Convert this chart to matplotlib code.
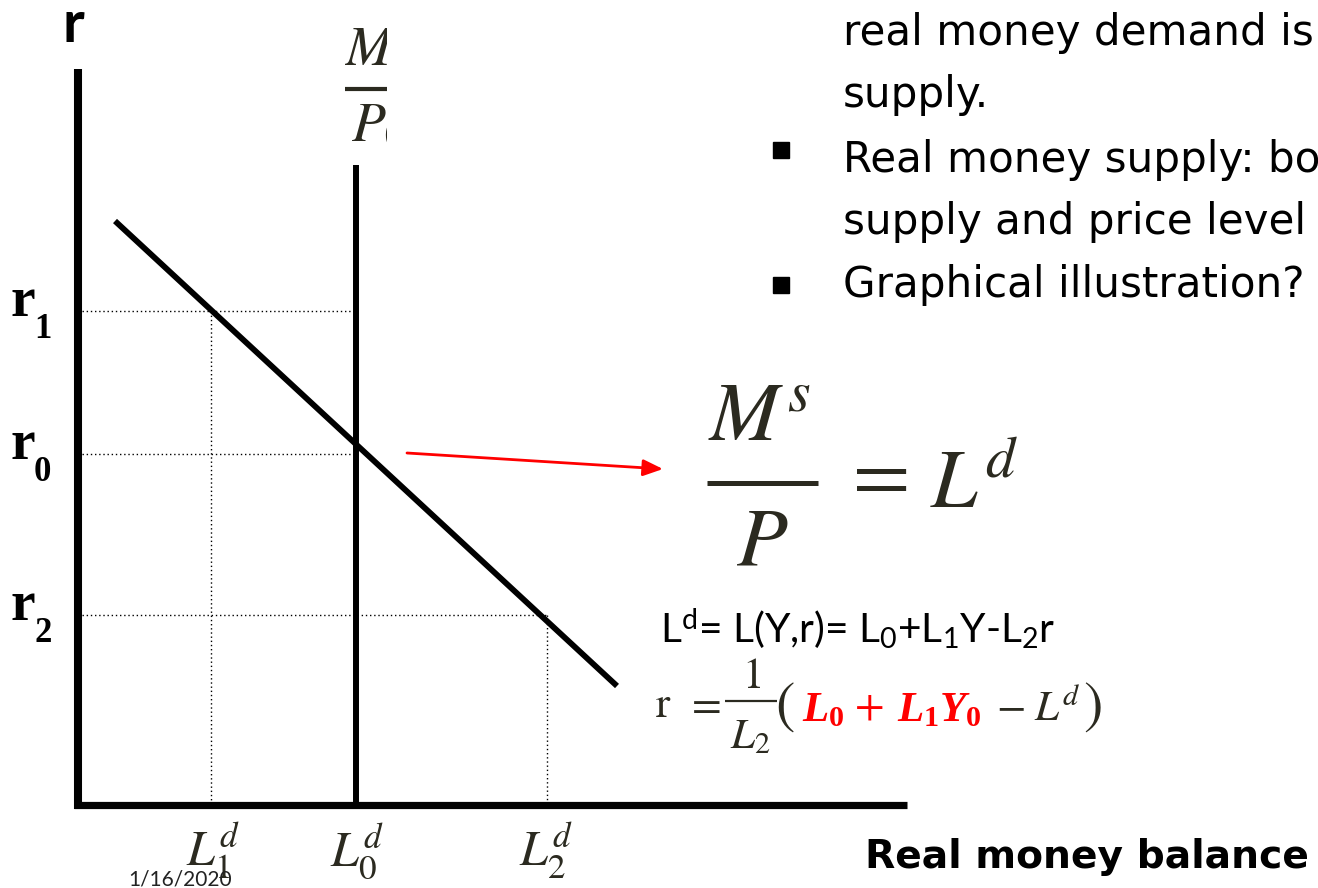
import matplotlib
matplotlib.use("Agg")
import matplotlib.pyplot as plt
from matplotlib.transforms import Bbox, TransformedBbox

plt.rcParams['mathtext.fontset'] = 'custom'
plt.rcParams['mathtext.rm'] = 'Lato'
plt.rcParams['mathtext.it'] = 'Liberation Serif:italic:bold'
plt.rcParams['mathtext.bf'] = 'Liberation Serif:bold'

# ---------------- data (diagram in pixel-like units, y downward) ----------------
origin = (78, 805)              # corner of the two axes
y_axis_top = 69
x_axis_right = 907
supply_x = 356                  # real money supply M/P0 (vertical)
supply_top = 165
demand_x = [115, 617]           # money demand line L^d
demand_y = [221, 686]
r_levels = [311, 454, 615]      # r1, r0, r2
r_subs = ['1', '0', '2']
r_guide_end = [356, 356, 547]   # where horizontal guides stop
L_levels = [213, 357, 546]      # L1^d, L0^d, L2^d label positions
L_subs = ['1', '0', '2']
v_guides_x = [211, 547]         # vertical dotted guides
v_guides_top = [311, 615]
arrow_start = (407, 453)
arrow_end = (663, 469)
bullet_y = [150, 285]
para_lines = ["real money demand is", "supply.", "Real money supply: both",
              "supply and price level", "Graphical illustration?"]
para_baselines = [45, 107, 172, 234, 297]

DARK = '#2b2a20'

fig = plt.figure(figsize=(13.18, 8.88), dpi=100)
ax = fig.add_axes([0, 0, 1, 1])
ax.set_xlim(0, 1318)
ax.set_ylim(888, 0)
ax.axis('off')

# axes
ax.plot([origin[0], origin[0]], [y_axis_top, origin[1] + 4], color='black', lw=5.8, solid_capstyle='butt')
ax.plot([origin[0] - 4, x_axis_right], [origin[1], origin[1]], color='black', lw=5.2, solid_capstyle='butt')

# supply line
ax.plot([supply_x, supply_x], [supply_top, origin[1]], color='black', lw=4.3, solid_capstyle='butt')
# demand line
ax.plot(demand_x, demand_y, color='black', lw=4.2, solid_capstyle='butt')

# dotted guides
for ry, xe in zip(r_levels, r_guide_end):
    ax.plot([origin[0] + 4, xe], [ry, ry], color='black', lw=1.0, ls=(0, (1, 2)))
for vx, vt in zip(v_guides_x, v_guides_top):
    ax.plot([vx, vx], [vt, origin[1] - 3], color='black', lw=1.0, ls=(0, (1, 2)))

# axis label r
ax.text(62, 42, 'r', fontsize=42, fontweight='bold', family='Lato', ha='left', va='baseline')

# r level labels
for ry, s in zip(r_levels, r_subs):
    ax.text(11, ry + 5, 'r', fontsize=40, fontweight='bold', family='Liberation Serif',
            ha='left', va='baseline')
    ax.text(34, ry + 27, s, fontsize=25, fontweight='bold', family='Liberation Serif',
            ha='left', va='baseline')

# L labels under x axis
for lx, s in zip(L_levels, L_subs):
    ax.text(lx, 866, r'$L_{%s}^{d}$' % s, fontsize=36, color=DARK, ha='center',
            va='baseline', math_fontfamily='stix')

# M/P0 label at top of supply line (clipped on the right as in the slide)
clip = TransformedBbox(Bbox([[0, 0], [387, 888]]), ax.transData)
tM = ax.text(344, 65, r'$M$', fontsize=40, color=DARK, ha='left', va='baseline',
             math_fontfamily='stix')
tP = ax.text(351, 141, r'$P_0$', fontsize=40, color=DARK, ha='left', va='baseline',
             math_fontfamily='stix')
ln, = ax.plot([345, 400], [89.5, 89.5], color=DARK, lw=3.0, solid_capstyle='butt')
for a in (tM, tP, ln):
    a.set_clip_box(clip)
    a.set_clip_on(True)

# red arrow
ax.annotate('', xy=arrow_end, xytext=arrow_start,
            arrowprops=dict(arrowstyle='-|>,head_length=1.2,head_width=0.5', color='red',
                            lw=2.0, shrinkA=0, shrinkB=0))

# big equation Ms/P = Ld
ax.text(708, 441, r'$M^{s}$', fontsize=60, color=DARK, ha='left', va='baseline',
        math_fontfamily='stix')
ax.plot([707, 818], [483, 483], color=DARK, lw=3.6, solid_capstyle='butt')
ax.text(762, 565, r'$P$', fontsize=60, color=DARK, ha='center', va='baseline',
        math_fontfamily='stix')
ax.text(874, 499, r'$=$', fontsize=60, color=DARK, ha='center', va='baseline',
        math_fontfamily='stix')
ax.text(930, 508, r'$L^{d}$', fontsize=60, color=DARK, ha='left', va='baseline',
        math_fontfamily='stix')

# Ld line
t_ld = ax.text(660, 643,
               r'L$^{\mathrm{d}}$= L(Y,r)= L$_{\mathrm{0}}$+L$_{\mathrm{1}}$Y-L$_{\mathrm{2}}$r',
               fontsize=26, family='Lato', color='black', ha='left', va='baseline',
               math_fontfamily='custom')

# r = 1/L2 (L0 + L1Y0 - Ld)
FS = 31
ax.text(655, 717, r'$\mathrm{r}$', fontsize=FS, color=DARK, ha='left', va='baseline',
        math_fontfamily='stix')
ax.text(703, 716, r'$=$', fontsize=FS, color=DARK, ha='center', va='baseline',
        math_fontfamily='stix')
ax.text(751, 688, r'$1$', fontsize=FS, color=DARK, ha='center', va='baseline',
        math_fontfamily='stix')
ax.plot([725, 777], [701, 701], color=DARK, lw=1.6, solid_capstyle='butt')
ax.text(750, 748, r'$L_2$', fontsize=FS, color=DARK, ha='center', va='baseline',
        math_fontfamily='stix')
ax.text(775, 722, r'$($', fontsize=42, color=DARK, ha='left', va='baseline',
        math_fontfamily='stix')
ax.text(802, 721, r'$L_{\mathbf{0}}$', fontsize=FS, color='red', ha='left',
        va='baseline', math_fontfamily='custom')
ax.text(869, 718, r'$+$', fontsize=FS, color='red', ha='center', va='baseline',
        math_fontfamily='stix')
ax.text(897, 721, r'$L_{\mathbf{1}}Y_{\mathbf{0}}$', fontsize=FS, color='red', ha='left',
        va='baseline', math_fontfamily='custom')
ax.text(996, 721, r'$-\;L^{d}$', fontsize=FS, color=DARK, ha='left', va='baseline',
        math_fontfamily='stix')
ax.text(1083, 722, r'$)$', fontsize=42, color=DARK, ha='left', va='baseline',
        math_fontfamily='stix')

# right-hand bullet text
ax.plot([781] * len(bullet_y), bullet_y, ls='none', marker='s', markersize=11,
        color='black')
para = [ax.text(843, by, txt, fontsize=29, family='DejaVu Sans', color='black', ha='left',
                va='baseline') for txt, by in zip(para_lines, para_baselines)]

# x-axis title and footer date
t_rmb = ax.text(865, 868, 'Real money balance', fontsize=31, fontweight='bold',
                family='DejaVu Sans', ha='left', va='baseline')
t_date = ax.text(128, 885, '1/16/2020', fontsize=14, family='Lato', color='#222222',
                 ha='left', va='baseline')

# fit a few text widths to the slide
fig.canvas.draw()
rend = fig.canvas.get_renderer()


def fit(texts, ref, target):
    w = ref.get_window_extent(rend).width
    s = ref.get_fontsize() * target / w
    for t in texts:
        t.set_fontsize(s)


fit(para, para[4], 459)
fit([t_rmb], t_rmb, 445)
fit([t_ld], t_ld, 396)
fit([t_date], t_date, 104)

fig.savefig('out.png', dpi=100)
